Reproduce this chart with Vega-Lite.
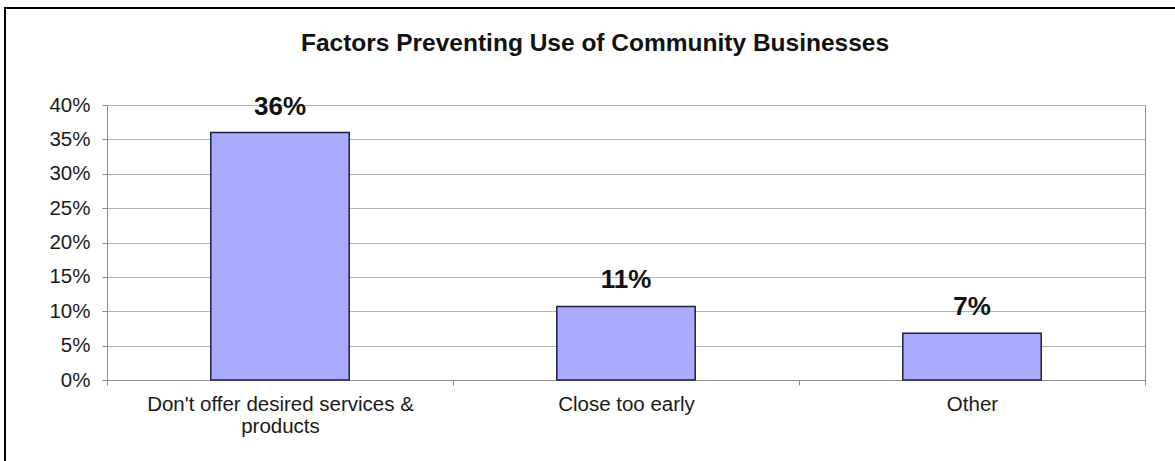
{
  "$schema": "https://vega.github.io/schema/vega-lite/v6.json",
  "width": 1300,
  "height": 468,
  "autosize": {"type": "none"},
  "padding": {"left": 5, "top": 8, "right": -130, "bottom": -15},
  "background": "white",
  "title": {
    "text": "Factors Preventing Use of Community Businesses",
    "font": "Liberation Sans",
    "fontSize": 24.5,
    "fontWeight": "bold",
    "color": "#111111",
    "anchor": "middle",
    "frame": "group",
    "baseline": "alphabetic",
    "offset": -67,
    "dx": -60
  },
  "config": {
    "font": "Liberation Sans",
    "view": {"stroke": "#000000", "strokeWidth": 2, "fill": "white"}
  },
  "data": {
    "values": [
      {"factor": "Don't offer desired services & products", "share": 0.36},
      {"factor": "Close too early", "share": 0.107},
      {"factor": "Other", "share": 0.068}
    ]
  },
  "encoding": {
    "x": {
      "field": "factor",
      "type": "nominal",
      "sort": null,
      "scale": {"range": [102, 1140], "paddingInner": 0, "paddingOuter": 0},
      "axis": {
        "orient": "bottom",
        "offset": -96,
        "title": null,
        "grid": false,
        "tickBand": "extent",
        "tickSize": 5,
        "tickColor": "#8c8c8c",
        "domainColor": "#8c8c8c",
        "labelAngle": 0,
        "labelFont": "Liberation Sans",
        "labelFontSize": 20.5,
        "labelColor": "#1a1a1a",
        "labelPadding": 9,
        "labelBaseline": "top",
        "labelLineHeight": 22,
        "labelLimit": 0,
        "labelExpr": "datum.value == \"Don't offer desired services & products\" ? [\"Don't offer desired services &\", \"products\"] : datum.value"
      }
    },
    "y": {
      "field": "share",
      "type": "quantitative",
      "scale": {"domain": [0, 0.4], "range": [372, 97], "nice": false},
      "axis": {
        "orient": "left",
        "offset": -102,
        "title": null,
        "values": [0, 0.05, 0.1, 0.15, 0.2, 0.25, 0.3, 0.35, 0.4],
        "format": ".0%",
        "grid": true,
        "gridColor": "#b3b3b3",
        "gridWidth": 1,
        "domainColor": "#8c8c8c",
        "tickColor": "#8c8c8c",
        "tickSize": 5,
        "labelFont": "Liberation Sans",
        "labelFontSize": 20.5,
        "labelColor": "#1a1a1a",
        "labelPadding": 12
      }
    }
  },
  "layer": [
    {
      "mark": {
        "type": "bar",
        "width": {"band": 0.4},
        "fill": "#aaaaff",
        "stroke": "#1f1f3f",
        "strokeWidth": 1.5
      }
    },
    {
      "mark": {
        "type": "text",
        "font": "Liberation Sans",
        "fontSize": 26,
        "fontWeight": "bold",
        "baseline": "alphabetic",
        "dy": -18,
        "color": "#111111"
      },
      "encoding": {
        "text": {"field": "share", "format": ".0%"},
        "y": {
          "field": "share",
          "type": "quantitative",
          "axis": {
            "orient": "right",
            "offset": -160,
            "title": null,
            "labels": false,
            "ticks": false,
            "grid": false,
            "domainColor": "#8c8c8c"
          }
        }
      }
    }
  ],
  "resolve": {"axis": {"y": "independent"}}
}
